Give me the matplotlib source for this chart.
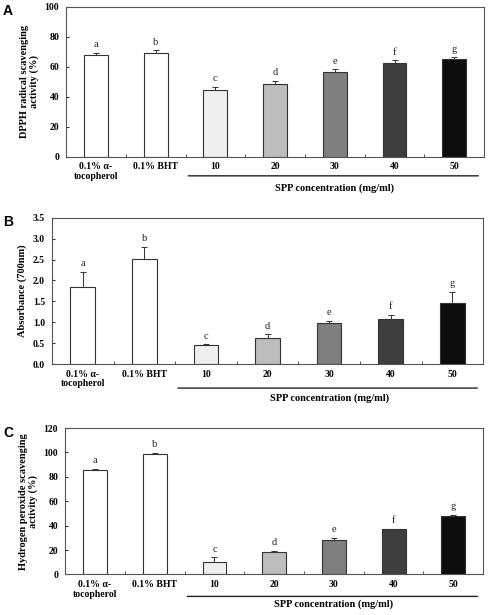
import matplotlib.pyplot as plt
import numpy as np

plt.rcParams['font.family'] = ['Liberation Serif', 'DejaVu Serif']

categories = ["0.1% \u03b1-\ntocopherol", "0.1% BHT", "10", "20", "30", "40", "50"]
letters = ["a", "b", "c", "d", "e", "f", "g"]
bar_colors = ["white", "white", "#efefef", "#bdbdbd", "#7f7f7f", "#3e3e3e", "#0c0c0c"]

dpph = [68.0, 69.0, 44.5, 48.5, 56.5, 62.5, 65.5]
dpph_err = [1.5, 2.0, 2.2, 2.0, 1.8, 1.8, 0.8]

absorb = [1.85, 2.52, 0.45, 0.63, 0.98, 1.08, 1.47]
absorb_err = [0.35, 0.28, 0.02, 0.08, 0.06, 0.10, 0.25]

h2o2 = [85.5, 99.0, 10.5, 18.5, 28.0, 37.0, 48.0]
h2o2_err = [0.8, 0.7, 3.5, 1.0, 2.0, 0.6, 0.6]

# tag, values, errors, ylabel, ymax, step, format, axes rect, underline y, label y (px below axis)
panels = [
    ("A", dpph, dpph_err, "DPPH radical scavenging\nactivity (%)", 100, 20, "%d",
     [0.135, 0.745, 0.853, 0.244], 19, 27),
    ("B", absorb, absorb_err, "Absorbance (700nm)", 3.5, 0.5, "%.1f",
     [0.106, 0.408, 0.880, 0.238], 24, 29),
    ("C", h2o2, h2o2_err, "Hydrogen peroxide scavenging\nactivity (%)", 120, 20, "%d",
     [0.133, 0.066, 0.853, 0.238], 22, 25),
]

fig = plt.figure(figsize=(4.9, 6.15), dpi=100)
x = np.arange(len(categories))
edge = "#333333"

for tag, vals, errs, ylab, ymax, step, fmt, rect, line_px, lab_px in panels:
    ax = fig.add_axes(rect)
    ax.bar(x, vals, width=0.4, color=bar_colors, edgecolor=edge, linewidth=0.8,
           yerr=[np.zeros(len(errs)), errs], error_kw=dict(ecolor=edge, elinewidth=0.7,
                                                           capsize=2, capthick=0.7))
    for xi, v, e, lt in zip(x, vals, errs, letters):
        ax.text(xi, v + e + ymax * 0.025, lt, ha="center", va="bottom", fontsize=7.5,
                color="#222222")
    ax.set_xlim(-0.5, len(categories) - 0.5)
    ax.set_ylim(0, ymax)
    ax.set_yticks(np.arange(0, ymax + step / 2, step))
    ax.yaxis.set_major_formatter(plt.FormatStrFormatter(fmt))
    ax.set_xticks(x)
    ax.set_xticklabels(categories, fontsize=7, fontweight="bold", linespacing=1.1)
    ax.set_xticks(np.arange(0.5, len(categories) - 1, 1), minor=True)
    ax.tick_params(axis="x", which="major", length=0, pad=4)
    ax.tick_params(axis="x", which="minor", direction="in", length=2, color=edge)
    ax.tick_params(axis="y", direction="in", length=2, labelsize=7, color=edge, pad=5)
    for lab in ax.get_yticklabels():
        lab.set_fontweight("bold")
    ax.set_ylabel(ylab, fontsize=7.5, fontweight="bold", linespacing=1.1)
    for s in ax.spines.values():
        s.set_color("#555555")
        s.set_linewidth(0.8)
    ax_h = rect[3] * 615
    # underline for the SPP group
    ax.annotate("", xy=(1.5, -line_px / ax_h), xytext=(6.45, -line_px / ax_h),
                xycoords=("data", "axes fraction"),
                arrowprops=dict(arrowstyle="-", color="#222222", lw=1.0), annotation_clip=False)
    ax.text(4.0, -lab_px / ax_h, "SPP concentration (mg/ml)", transform=ax.get_xaxis_transform(),
            ha="center", va="top", fontsize=7.5, fontweight="bold")
    fig.text(0.006, rect[1] + rect[3] + 0.004, tag, fontsize=10, fontweight="bold",
             family="Liberation Sans", ha="left", va="top")

fig.savefig("out.png", dpi=100)
